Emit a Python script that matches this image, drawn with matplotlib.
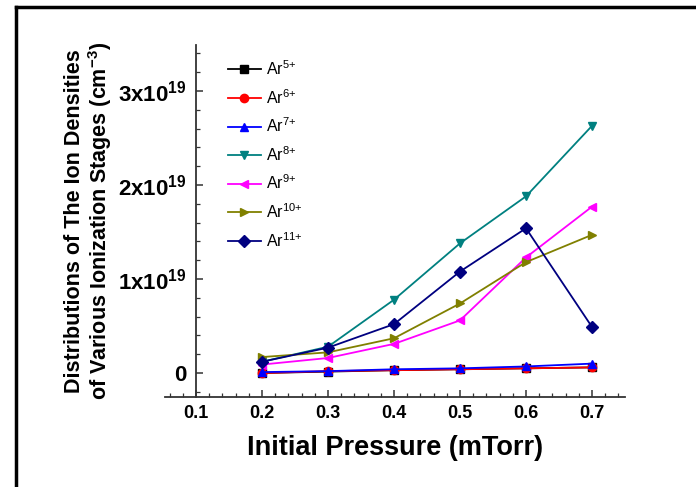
import numpy as np
import matplotlib.pyplot as plt
from matplotlib.lines import Line2D
from matplotlib.ticker import MultipleLocator

plt.rcParams['font.family'] = ['Liberation Sans', 'DejaVu Sans']
plt.rcParams['mathtext.fontset'] = 'custom'
plt.rcParams['mathtext.rm'] = 'Liberation Sans'
plt.rcParams['mathtext.bf'] = 'Liberation Sans:bold'

# druk (mTorr)
pressure = [0.2, 0.3, 0.4, 0.5, 0.6, 0.7]

# ionendichtheden (x 1e19 cm^-3)
ar5 = [0.00, 0.015, 0.03, 0.04, 0.05, 0.06]
ar6 = [0.00, 0.02, 0.03, 0.04, 0.05, 0.06]
ar7 = [0.01, 0.02, 0.04, 0.05, 0.07, 0.10]
ar8 = [0.12, 0.28, 0.78, 1.38, 1.88, 2.63]
ar9 = [0.09, 0.16, 0.31, 0.56, 1.23, 1.77]
ar10 = [0.17, 0.22, 0.37, 0.74, 1.18, 1.47]
ar11 = [0.12, 0.27, 0.52, 1.08, 1.54, 0.49]

labels = ['Ar$\\mathrm{^{5{+}}}$', 'Ar$\\mathrm{^{6{+}}}$', 'Ar$\\mathrm{^{7{+}}}$',
          'Ar$\\mathrm{^{8{+}}}$', 'Ar$\\mathrm{^{9{+}}}$', 'Ar$\\mathrm{^{10{+}}}$',
          'Ar$\\mathrm{^{11{+}}}$']
series = [ar5, ar6, ar7, ar8, ar9, ar10, ar11]
colors = ['black', 'red', 'blue', '#008080', 'magenta', '#808000', '#000080']
markers = ['s', 'o', '^', 'v', '<', '>', 'D']

x_ticks = [0.1, 0.2, 0.3, 0.4, 0.5, 0.6, 0.7]
y_ticks = [0, 1e19, 2e19, 3e19]
y_ticklabels = ['0', '1x10$\\mathbf{^{19}}$', '2x10$\\mathbf{^{19}}$', '3x10$\\mathbf{^{19}}$']

fig = plt.figure(figsize=(6.96, 4.87), dpi=100)
ax = fig.add_axes([165/696, 1 - 397/487, 460/696, 352/487])

for y, lab, c, m in zip(series, labels, colors, markers):
    ax.plot(pressure, np.array(y) * 1e19, color=c, marker=m, markersize=6,
            linewidth=1.3, label=lab)

ax.set_xlim(0.053, 0.75)
ax.set_ylim(-0.255e19, 3.49e19)

# alleen linker- en onderas, linkeras bij x = 0.1
ax.spines['top'].set_visible(False)
ax.spines['right'].set_visible(False)
ax.spines['left'].set_position(('data', 0.1))
for s in ['left', 'bottom']:
    ax.spines[s].set_linewidth(1.3)
    ax.spines[s].set_color('#333333')

ax.set_xticks(x_ticks)
ax.set_xticklabels(['%.1f' % v for v in x_ticks], fontsize=13, fontweight='bold')
ax.xaxis.set_minor_locator(MultipleLocator(0.02))
ax.set_yticks(y_ticks)
ax.set_yticklabels(y_ticklabels, fontsize=16, fontweight='bold')
ax.yaxis.set_minor_locator(MultipleLocator(0.2e19))
ax.tick_params(which='major', direction='in', length=5, width=1.1, color='#333333')
ax.tick_params(which='minor', direction='in', length=3, width=0.9, color='#333333')
ax.tick_params(axis='y', pad=7)
ax.tick_params(axis='x', pad=6)

ax.set_xlabel('Initial Pressure (mTorr)', fontsize=19.5, fontweight='bold', labelpad=9)
ax.set_ylabel('Distributions of The Ion Densities\nof Various Ionization Stages (cm$\\mathbf{^{-3}}$)',
              fontsize=15.5, fontweight='bold', linespacing=1.05)
ax.yaxis.set_label_coords(-0.11, 0.5)

ax.legend(loc='upper left', bbox_to_anchor=(0.105, 1.0), frameon=False,
          fontsize=11.5, handlelength=2.1, labelspacing=0.62, handletextpad=0.3)

# kader rond figuur (links en boven)
fig.add_artist(Line2D([16/696, 16/696], [0, 1 - 7/487], color='black', linewidth=2.5))
fig.add_artist(Line2D([16/696, 1], [1 - 7/487, 1 - 7/487], color='black', linewidth=2.5))

fig.savefig('out.png', dpi=100)
